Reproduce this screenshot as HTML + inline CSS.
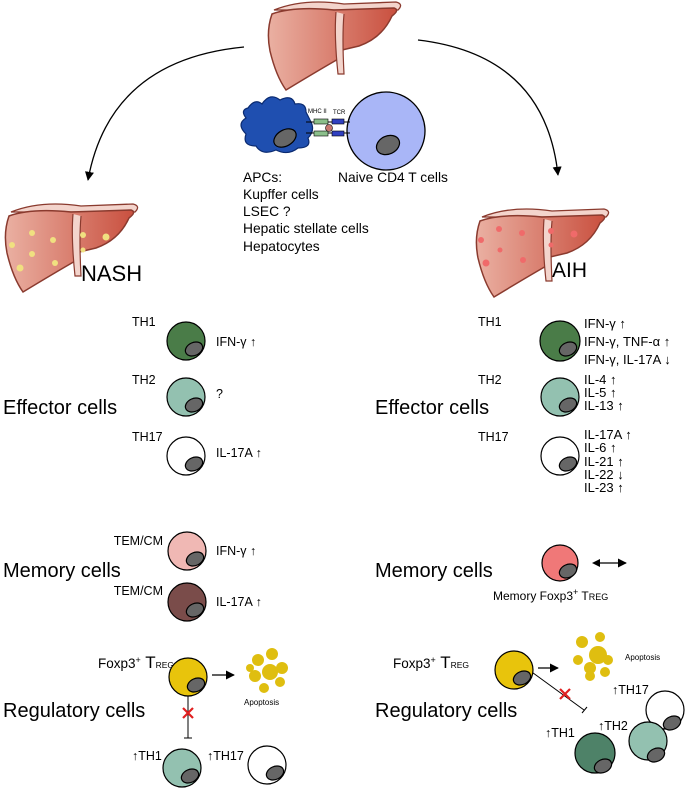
<!DOCTYPE html>
<html><head><meta charset="utf-8"><style>
html,body{margin:0;padding:0;background:#fff}
svg{display:block;font-family:"Liberation Sans",sans-serif}
</style></head><body>
<svg width="685" height="789" viewBox="0 0 685 789" xmlns="http://www.w3.org/2000/svg">
<defs>
<linearGradient id="lg" x1="0" x2="1" y1="0" y2="0"><stop offset="0" stop-color="#eab0a2"/><stop offset="1" stop-color="#c9503f"/></linearGradient>
<g id="liver">
<path d="M10,14 Q40,2 80,8 L132,6 Q140,8 134,14 Z" fill="#f3d4cc" stroke="#8a3a2e" stroke-width="1.3"/>
<path d="M8,18 Q30,10 70,14 L130,12 Q136,14 128,20 Q118,42 95,50 L78,54 L76,62 Q55,74 22,94 Q12,80 6,55 Q2,35 8,18 Z" fill="url(#lg)" stroke="#8a3a2e" stroke-width="1.5"/>
<path d="M72,16 Q70,40 74,78 L80,78 Q78,40 80,18" fill="#f3d4cc" stroke="#8a3a2e" stroke-width="1.2"/>
</g>
<marker id="ah" viewBox="0 0 10 10" refX="9" refY="5" markerWidth="7" markerHeight="7" orient="auto"><path d="M0,0 L10,5 L0,10 Z" fill="#000"/></marker>
<g id="nuc"><ellipse cx="6" cy="9" rx="9" ry="6.5" transform="rotate(-25 6 9)" fill="#666" stroke="#000" stroke-width="1.2"/></g>
</defs>

<!-- top liver -->
<use href="#liver" transform="translate(264,-4)"/>
<!-- arrows -->
<path d="M244,47 Q110,60 88,180" fill="none" stroke="#000" stroke-width="1.3" marker-end="url(#ah)"/>
<path d="M418,40 Q545,55 558,175" fill="none" stroke="#000" stroke-width="1.3" marker-end="url(#ah)"/>

<!-- APC -->
<path d="M248,108 Q255,98 262,104 Q270,92 280,100 Q292,94 295,104 Q306,102 306,112 L310,120 Q316,130 308,138 Q312,148 298,148 Q288,156 276,150 Q262,156 256,146 Q242,146 246,134 Q236,124 246,118 Q240,110 248,108 Z" fill="#1f4fb0" stroke="#0a2a70" stroke-width="1.2"/>
<ellipse cx="285" cy="138" rx="12" ry="8" transform="rotate(-30 285 138)" fill="#666" stroke="#000" stroke-width="1.2"/>
<circle cx="386" cy="131" r="39" fill="#a9b6f7" stroke="#000" stroke-width="1.3"/>
<ellipse cx="388" cy="145" rx="12" ry="9" transform="rotate(-25 388 145)" fill="#666" stroke="#000" stroke-width="1.2"/>
<line x1="306" y1="122" x2="350" y2="122" stroke="#000"/>
<line x1="306" y1="133" x2="350" y2="133" stroke="#000"/>
<rect x="314" y="119" width="14" height="5" fill="#8bbf8b" stroke="#000" stroke-width=".6"/>
<rect x="314" y="131" width="14" height="5" fill="#8bbf8b" stroke="#000" stroke-width=".6"/>
<rect x="332" y="119" width="12" height="5" fill="#3040c0" stroke="#000" stroke-width=".6"/>
<rect x="332" y="131" width="12" height="5" fill="#3040c0" stroke="#000" stroke-width=".6"/>
<circle cx="329" cy="128" r="3.5" fill="#c87870" stroke="#000" stroke-width=".6"/>
<text x="308" y="113" font-size="6">MHC II</text>
<text x="333" y="114" font-size="6">TCR</text>
<g font-size="13.8">
<text x="243" y="182">APCs:</text>
<text x="338" y="182">Naive CD4 T cells</text>
<text x="243" y="199">Kupffer cells</text>
<text x="243" y="216">LSEC ?</text>
<text x="243" y="233">Hepatic stellate cells</text>
<text x="243" y="251">Hepatocytes</text>
</g>

<!-- NASH liver -->
<use href="#liver" transform="translate(1,198)"/>
<g fill="#f0e080"><circle cx="32" cy="233" r="3"/><circle cx="53" cy="240" r="3"/><circle cx="12" cy="245" r="3"/><circle cx="32" cy="254" r="3"/><circle cx="55" cy="263" r="3"/><circle cx="20" cy="268" r="3.5"/><circle cx="83" cy="235" r="3"/><circle cx="106" cy="237" r="3.5"/><circle cx="83" cy="250" r="2.5"/></g>
<text x="81" y="281" font-size="22">NASH</text>

<!-- AIH liver -->
<use href="#liver" transform="translate(472,203)"/>
<g fill="#f06a6a"><circle cx="499" cy="229" r="3"/><circle cx="522" cy="233" r="3"/><circle cx="481" cy="240" r="3"/><circle cx="500" cy="250" r="2.5"/><circle cx="486" cy="263" r="3.5"/><circle cx="523" cy="260" r="3"/><circle cx="551" cy="231" r="3"/><circle cx="574" cy="234" r="3.5"/><circle cx="551" cy="245" r="2.5"/></g>
<text x="552" y="277" font-size="21">AIH</text>

<!-- section labels -->
<g font-size="20">
<text x="3" y="414">Effector cells</text>
<text x="3" y="577">Memory cells</text>
<text x="3" y="717">Regulatory cells</text>
<text x="375" y="414">Effector cells</text>
<text x="375" y="577">Memory cells</text>
<text x="375" y="717">Regulatory cells</text>
</g>

<!-- left effector -->
<g font-size="12.5">
<text x="132" y="326">TH1</text><text x="132" y="384">TH2</text><text x="132" y="441">TH17</text>
<text x="216" y="346">IFN-γ ↑</text><text x="216" y="398">?</text><text x="216" y="457">IL-17A ↑</text>
</g>
<circle cx="186" cy="341" r="19" fill="#4a7c48" stroke="#000" stroke-width="1.2"/><use href="#nuc" x="188" y="340"/>
<circle cx="186" cy="397" r="19" fill="#93c1b0" stroke="#000" stroke-width="1.2"/><use href="#nuc" x="188" y="396"/>
<circle cx="186" cy="456" r="19" fill="#fff" stroke="#000" stroke-width="1.2"/><use href="#nuc" x="188" y="455"/>

<!-- right effector -->
<g font-size="13">
<text x="478" y="326" font-size="12.5">TH1</text><text x="478" y="384" font-size="12.5">TH2</text><text x="478" y="441" font-size="12.5">TH17</text>
<text x="584" y="328">IFN-γ ↑</text>
<text x="584" y="346">IFN-γ, TNF-α ↑</text>
<text x="584" y="364">IFN-γ, IL-17A ↓</text>
<text x="584" y="384">IL-4 ↑</text><text x="584" y="397">IL-5 ↑</text><text x="584" y="410">IL-13 ↑</text>
<text x="584" y="439">IL-17A ↑</text><text x="584" y="452">IL-6 ↑</text><text x="584" y="466">IL-21 ↑</text><text x="584" y="479">IL-22 ↓</text><text x="584" y="492">IL-23 ↑</text>
</g>
<circle cx="560" cy="341" r="20" fill="#4a7c48" stroke="#000" stroke-width="1.2"/><use href="#nuc" x="562" y="340"/>
<circle cx="560" cy="397" r="19" fill="#93c1b0" stroke="#000" stroke-width="1.2"/><use href="#nuc" x="562" y="396"/>
<circle cx="560" cy="456" r="19" fill="#fff" stroke="#000" stroke-width="1.2"/><use href="#nuc" x="562" y="455"/>

<!-- left memory -->
<g font-size="12.5">
<text x="163" y="545" text-anchor="end">TEM/CM</text><text x="163" y="595" text-anchor="end">TEM/CM</text>
<text x="216" y="555">IFN-γ ↑</text><text x="216" y="606">IL-17A ↑</text>
</g>
<circle cx="187" cy="551" r="19" fill="#f0b8b4" stroke="#000" stroke-width="1.2"/><use href="#nuc" x="189" y="550"/>
<circle cx="187" cy="602" r="19" fill="#7a4c4a" stroke="#000" stroke-width="1.2"/><use href="#nuc" x="189" y="601"/>

<!-- right memory -->
<circle cx="560" cy="563" r="18" fill="#f07878" stroke="#000" stroke-width="1.2"/><use href="#nuc" x="562" y="562"/>
<line x1="594" y1="563" x2="626" y2="563" stroke="#000" stroke-width="1.3" marker-end="url(#ah)"/>
<path d="M600,559 L592,563 L600,567 Z"/>
<text x="493" y="600" font-size="12">Memory Foxp3<tspan dy="-5" font-size="9">+</tspan><tspan dy="5"> T</tspan><tspan font-size="9">REG</tspan></text>

<!-- left regulatory -->
<text x="98" y="668" font-size="13.5">Foxp3<tspan dy="-5" font-size="9">+</tspan><tspan dy="5" font-size="17"> T</tspan><tspan font-size="8.5">REG</tspan></text>
<circle cx="188" cy="677" r="19" fill="#e8c40c" stroke="#000" stroke-width="1.2"/><use href="#nuc" x="190" y="676"/>
<line x1="212" y1="675" x2="234" y2="675" stroke="#000" stroke-width="1.3" marker-end="url(#ah)"/>
<g fill="#dfbe10"><circle cx="258" cy="660" r="6"/><circle cx="272" cy="654" r="6"/><circle cx="282" cy="668" r="6"/><circle cx="270" cy="672" r="8"/><circle cx="255" cy="676" r="6"/><circle cx="280" cy="682" r="5"/><circle cx="264" cy="688" r="5"/><circle cx="250" cy="668" r="4"/></g>
<text x="244" y="705" font-size="8">Apoptosis</text>
<line x1="188" y1="696" x2="188" y2="738" stroke="#000"/><line x1="184" y1="738" x2="192" y2="738" stroke="#000"/>
<g stroke="#e02020" stroke-width="2.2"><line x1="183" y1="708" x2="193" y2="718"/><line x1="193" y1="708" x2="183" y2="718"/></g>
<g font-size="12.5"><text x="132" y="760">↑TH1</text><text x="207" y="760">↑TH17</text></g>
<circle cx="182" cy="768" r="19" fill="#93c1b0" stroke="#000" stroke-width="1.2"/><use href="#nuc" x="184" y="767"/>
<circle cx="267" cy="765" r="19" fill="#fff" stroke="#000" stroke-width="1.2"/><use href="#nuc" x="269" y="764"/>

<!-- right regulatory -->
<text x="393" y="668" font-size="13.5">Foxp3<tspan dy="-5" font-size="9">+</tspan><tspan dy="5" font-size="17"> T</tspan><tspan font-size="8.5">REG</tspan></text>
<line x1="529" y1="670" x2="584" y2="710" stroke="#000"/><line x1="582" y1="713" x2="587" y2="707" stroke="#000"/>
<circle cx="514" cy="670" r="19" fill="#e8c40c" stroke="#000" stroke-width="1.2"/><use href="#nuc" x="516" y="669"/>
<line x1="538" y1="668" x2="558" y2="668" stroke="#000" stroke-width="1.3" marker-end="url(#ah)"/>
<g fill="#dfbe10"><circle cx="582" cy="642" r="6"/><circle cx="600" cy="637" r="5"/><circle cx="598" cy="655" r="9"/><circle cx="608" cy="660" r="5"/><circle cx="578" cy="660" r="5"/><circle cx="590" cy="668" r="6"/><circle cx="605" cy="672" r="5"/><circle cx="590" cy="676" r="5"/></g>
<text x="625" y="660" font-size="8">Apoptosis</text>
<g stroke="#e02020" stroke-width="2.2"><line x1="560" y1="689" x2="570" y2="699"/><line x1="570" y1="689" x2="560" y2="699"/></g>
<g font-size="12.5"><text x="612" y="694">↑TH17</text><text x="598" y="730">↑TH2</text><text x="545" y="737">↑TH1</text></g>
<circle cx="665" cy="710" r="19" fill="#fff" stroke="#000" stroke-width="1.2"/><use href="#nuc" x="666" y="714"/>
<circle cx="648" cy="741" r="19" fill="#93c1b0" stroke="#000" stroke-width="1.2"/><use href="#nuc" x="650" y="746"/>
<circle cx="595" cy="753" r="20" fill="#4e8268" stroke="#000" stroke-width="1.2"/><use href="#nuc" x="597" y="757"/>
</svg>
</body></html>
